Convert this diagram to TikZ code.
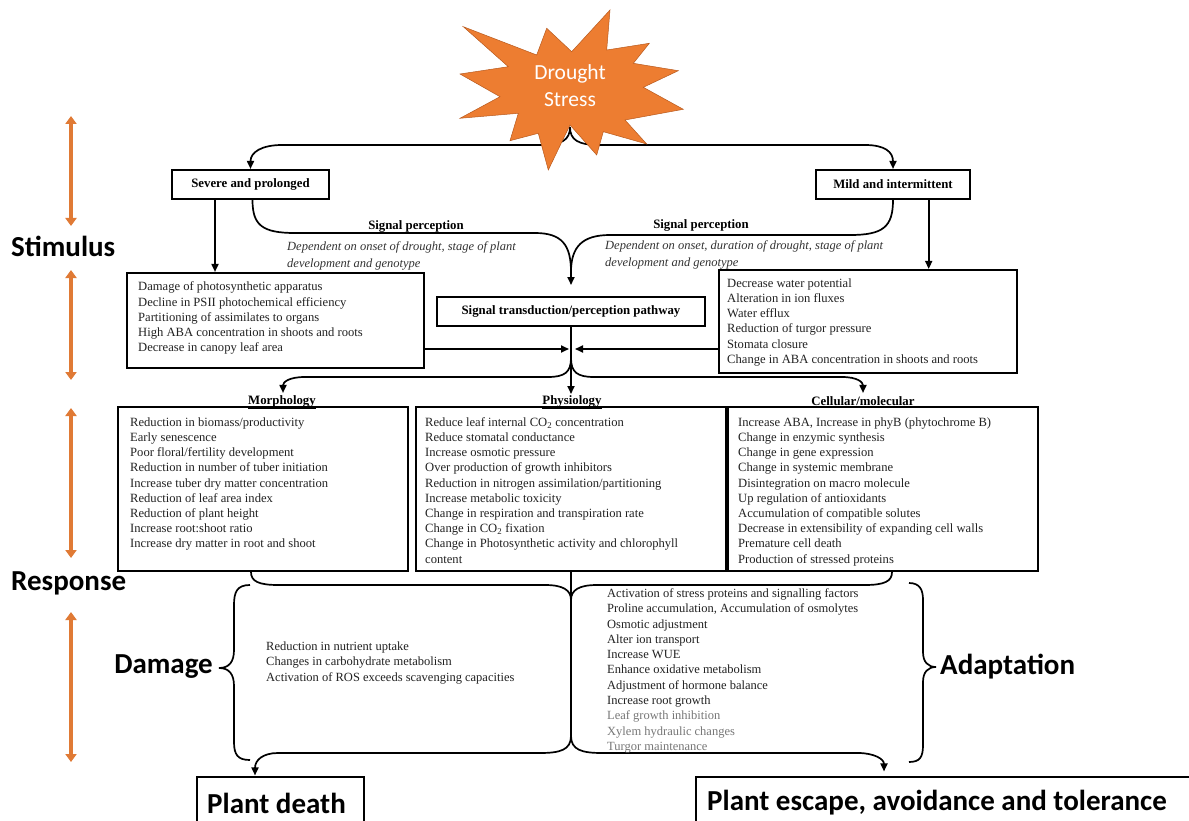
\documentclass[tikz,border=0pt]{standalone}
\usepackage{fontspec}
\setmainfont{Liberation Serif}
\newfontfamily\calib{Carlito}
\usetikzlibrary{arrows.meta}
\definecolor{orng}{HTML}{ED7D31}
\definecolor{orngdark}{HTML}{B85A1E}
\definecolor{arrorng}{HTML}{E07A35}
\definecolor{txtgray}{HTML}{222222}
\definecolor{itgray}{HTML}{333333}
\definecolor{lgray}{HTML}{777777}
\begin{document}
\begin{tikzpicture}[x=1pt,y=-1pt,
  conn/.style={line width=1.7pt},
  arr/.style={conn, -{Triangle[length=8pt,width=7pt]}},
  box/.style={draw, line width=2.1pt, inner sep=0pt},
  thinbox/.style={draw, line width=1.1pt, inner sep=0pt},
  txt/.style={anchor=north west, inner sep=0pt, align=left, text=txtgray, font=\fontsize{12.6}{15.2}\selectfont},
  smalltxt/.style={txt, font=\fontsize{12.5}{15.3}\selectfont},
  ittxt/.style={anchor=north west, inner sep=0pt, align=left, text=itgray, font=\fontsize{12.5}{16.6}\selectfont\itshape},
  lbl/.style={inner sep=0pt, font=\fontsize{12.8}{15}\selectfont\bfseries},
  big/.style={inner sep=0pt, font=\calib\bfseries\fontsize{29}{32}\selectfont},
  oarr/.style={draw=arrorng, line width=3.4pt, {Triangle[length=8pt,width=11pt]}-{Triangle[length=8pt,width=11pt]}}
]
\useasboundingbox (0,0) rectangle (1189,821);
\clip (0,0) rectangle (1189,821);
\fill[white] (0,0) rectangle (1189,821);

% ---------- boxes ----------
\node[box, minimum width=157pt, minimum height=29pt] (sev) at (250.5,184.5) {};
\node[box, minimum width=154pt, minimum height=29pt] (mild) at (893,184.5) {};
\node[box, minimum width=297pt, minimum height=95pt] (lbox) at (275.5,320.5) {};
\node[box, minimum width=298pt, minimum height=103pt] (rbox) at (868,321.5) {};
\node[box, minimum width=268pt, minimum height=29pt] (sig) at (571,311.5) {};
\node[box, minimum width=290pt, minimum height=164pt] (morph) at (263,489) {};
\node[box, minimum width=310pt, minimum height=164pt] (phys) at (571,489) {};
\node[box, minimum width=310pt, minimum height=164pt] (cell) at (883,489) {};
\node[thinbox, minimum width=167pt, minimum height=63pt] (death) at (280.5,808.5) {};
\node[thinbox, minimum width=504pt, minimum height=63pt] (escape) at (948,808.5) {};

% ---------- connectors ----------
\coordinate (cusp) at (570,127);
\draw[arr] (cusp) .. controls (570,140) and (562,145) .. (540,145) -- (282,145)
   .. controls (262,145) and (250.5,152) .. (sev.north);
\draw[arr] (cusp) .. controls (570,140) and (578,145) .. (600,145) -- (865,145)
   .. controls (885,145) and (893,152) .. (mild.north);

\draw[arr] ([xshift=-35.5pt]sev.south) -- ([xshift=-60.5pt]lbox.north);
\draw[arr] ([xshift=35.7pt]mild.south) -- ([xshift=60.7pt]rbox.north);

\coordinate (sigin) at (571,285);
\draw[conn] ([xshift=2pt]sev.south) .. controls (252.5,225) and (262,233) .. (295,233) -- (535,233)
   .. controls (562,233) and (571,245) .. (571,272);
\draw[conn] (mild.south) .. controls (893,227) and (883,235) .. (850,235) -- (610,235)
   .. controls (582,235) and (571,247) .. (571,272);
\draw[arr] (571,270) -- (sigin);

\coordinate (physin) at (571,394);
\draw[arr] (sig.south) -- (physin);
\coordinate (midl) at (569,349);
\coordinate (midr) at (575,349);
\draw[arr] ([yshift=-28.5pt]lbox.east) -- (midl);
\draw[arr] ([yshift=-27.5pt]rbox.west) -- (midr);

\coordinate (split) at (571,358);
\draw[arr] (split) .. controls (571,372) and (565,377) .. (548,377) -- (305,377)
   .. controls (289,377) and (283,382) .. ([xshift=20pt,yshift=13pt]morph.north);
\draw[arr] (split) .. controls (571,372) and (577,377) .. (594,377) -- (842,377)
   .. controls (857,377) and (863,382) .. ([xshift=-20pt,yshift=13pt]cell.north);

% lower bracket
\draw[conn] ([xshift=-12pt]morph.south) .. controls (251,581) and (258,585) .. (278,585) -- (545,585)
   .. controls (563,585) and (571,590) .. (571,600);
\draw[conn] ([xshift=9pt]cell.south) .. controls (892,581) and (885,585) .. (865,585) -- (597,585)
   .. controls (579,585) and (571,590) .. (571,600);
\coordinate (split2) at (571,736);
\draw[conn] (phys.south) -- (split2);
\draw[arr] (split2) .. controls (571,750) and (560,753) .. (540,753) -- (278,753)
   .. controls (263,753) and (255,760) .. ([xshift=-25.5pt,yshift=1pt]death.north);
\draw[arr] (split2) .. controls (571,750) and (582,753) .. (602,753) -- (858,753)
   .. controls (874,753) and (884,759) .. ([xshift=-64pt,yshift=5pt]escape.north);

% braces
\draw[conn] (250,585) .. controls (237,585) and (234,592) .. (234,605) -- (234,650)
   .. controls (234,662) and (229,668) .. (219,668) .. controls (229,668) and (234,674) .. (234,686)
   -- (234,742) .. controls (234,755) and (238,760) .. (250,760);
\draw[conn] (909,583) .. controls (920,583) and (923,590) .. (923,600) -- (923,652)
   .. controls (923,662) and (928,667) .. (936,667) .. controls (928,667) and (923,672) .. (923,682)
   -- (923,745) .. controls (923,757) and (920,762) .. (909,762);

% ---------- star ----------
\draw[fill=orng, draw=orngdark, line width=0.5pt]
  (463.3,26.7) -- (536.7,55) -- (546.7,28.3) -- (571.7,51.7) -- (610,10) -- (606.7,50)
  -- (649.3,43.3) -- (633.3,63.3) -- (678.3,70.7) -- (643.3,87.3) -- (683.3,109.3)
  -- (625,120) -- (646.7,144) -- (603.3,131.7) -- (596.7,155) -- (570,125) -- (548.3,170)
  -- (538.3,133.3) -- (510,140.7) -- (518.3,113.3) -- (460,118.3) -- (500,96.7)
  -- (460,74) -- (508.3,66.7) -- cycle;
\node[inner sep=0pt, align=center, text=white, font=\calib\fontsize{21.5}{27}\selectfont] (drought) at (570,86) {Drought\\Stress};

% ---------- orange arrows ----------
\draw[oarr] (71,116) -- (71,226);
\draw[oarr] (71,270) -- (71,380);
\draw[oarr] (71,408) -- (71,558);
\draw[oarr] (71,612) -- (71,762);

% ---------- labels ----------
\node[big, anchor=west] (stim) at (11,246) {Stimulus};
\node[big, anchor=west] (resp) at (11,583) {Response};
\node[big, anchor=east] (dam) at (213,667) {Damage};
\node[big, anchor=west] (adap) at (940,667) {Adaptation};
\node[big, anchor=west] (pd) at (207,803) {Plant death};
\node[big, anchor=west] (pe) at (707,803) {Plant escape, avoidance and tolerance};

\node[lbl] (sevt) at (sev) {Severe and prolonged};
\node[lbl] (mildt) at (mild) {Mild and intermittent};
\node[lbl] (sigt) at (sig) {Signal transduction/perception pathway};
\node[lbl] (sp1) at (416,226) {Signal perception};
\node[lbl] (sp2) at (701,225) {Signal perception};
\node[ittxt] (dep1) at (287,239) {\strut Dependent on onset of drought, stage of plant\\development and genotype};
\node[ittxt] (dep2) at (605,238) {\strut Dependent on onset, duration of drought, stage of plant\\development and genotype};

\node[lbl] (morl) at (282,402) {\underline{Morphology}};
\node[lbl] (phyl) at (572,402) {\underline{Physiology}};
\node[lbl] (celll) at (863,402) {\underline{Cellular/molecular}};

\node[txt] (lboxt) at (138,280) {\strut Damage of photosynthetic apparatus\\
Decline in PSII photochemical efficiency\\
Partitioning of assimilates to organs\\
High ABA concentration in shoots and roots\\
Decrease in canopy leaf area};

\node[txt] (rboxt) at (727,276.5) {\strut Decrease water potential\\
Alteration in ion fluxes\\
Water efflux\\
Reduction of turgor pressure\\
Stomata closure\\
Change in ABA concentration in shoots and roots};

\node[txt] (morpht) at (130,415.5) {\strut Reduction in biomass/productivity\\
Early senescence\\
Poor floral/fertility development\\
Reduction in number of tuber initiation\\
Increase tuber dry matter concentration\\
Reduction of leaf area index\\
Reduction of plant height\\
Increase root:shoot ratio\\
Increase dry matter in root and shoot};

\node[txt] (physt) at (425,415.5) {\strut Reduce leaf internal CO\textsubscript{2} concentration\\
Reduce stomatal conductance\\
Increase osmotic pressure\\
Over production of growth inhibitors\\
Reduction in nitrogen assimilation/partitioning\\
Increase metabolic toxicity\\
Change in respiration and transpiration rate\\
Change in CO\textsubscript{2} fixation\\
Change in Photosynthetic activity and chlorophyll\\
content};

\node[txt] (cellt) at (738,415.5) {\strut Increase ABA, Increase in phyB (phytochrome B)\\
Change in enzymic synthesis\\
Change in gene expression\\
Change in systemic membrane\\
Disintegration on macro molecule\\
Up regulation of antioxidants\\
Accumulation of compatible solutes\\
Decrease in extensibility of expanding cell walls\\
Premature cell death\\
Production of stressed proteins};

\node[smalltxt] (damt) at (266,639.5) {\strut Reduction in nutrient uptake\\
Changes in carbohydrate metabolism\\
Activation of ROS exceeds scavenging capacities};

\node[smalltxt] (adapt) at (607,586.5) {\strut Activation of stress proteins and signalling factors\\
Proline accumulation, Accumulation of osmolytes\\
Osmotic adjustment\\
Alter ion transport\\
Increase WUE\\
Enhance oxidative metabolism\\
Adjustment of hormone balance\\
Increase root growth\\
\textcolor{lgray}{Leaf growth inhibition}\\
\textcolor{lgray}{Xylem hydraulic changes}\\
\textcolor{lgray}{Turgor maintenance}};
\end{tikzpicture}
\end{document}
